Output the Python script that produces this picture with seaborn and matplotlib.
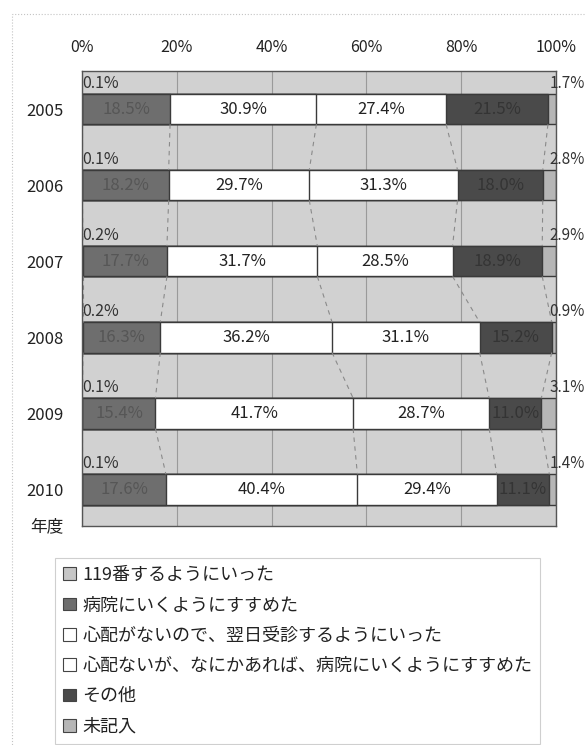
import numpy as np
import pandas as pd
import seaborn as sns
import matplotlib.pyplot as plt
from matplotlib.patches import Patch, Rectangle

years = ["2005", "2006", "2007", "2008", "2009", "2010"]
series = ["119番するようにいった", "病院にいくようにすすめた",
          "心配がないので、翌日受診するようにいった",
          "心配ないが、なにかあれば、病院にいくようにすすめた",
          "その他", "未記入"]
call_119 = [0.1, 0.1, 0.2, 0.2, 0.1, 0.1]
hospital = [18.5, 18.2, 17.7, 16.3, 15.4, 17.6]
next_day = [30.9, 29.7, 31.7, 36.2, 41.7, 40.4]
if_any = [27.4, 31.3, 28.5, 31.1, 28.7, 29.4]
other = [21.5, 18.0, 18.9, 15.2, 11.0, 11.1]
no_answer = [1.7, 2.8, 2.9, 0.9, 3.1, 1.4]
tick_labels = ["0%", "20%", "40%", "60%", "80%", "100%"]

colors = ["#c6c6c6", "#6e6e6e", "white", "white", "#4a4a4a", "#b6b6b6"]
text_colors = ["#333333", "#565656", "#222222", "#222222", "#343434", "#333333"]
edge = "#3a3a3a"

sns.set_theme(style="white")
plt.rcParams["font.family"] = ["Noto Sans CJK JP", "DejaVu Sans"]

df = pd.DataFrame({s: v for s, v in zip(series, [call_119, hospital, next_day, if_any, other, no_answer])},
                  index=years)
# 100% stacked: normalise each row
pct = df.div(df.sum(axis=1), axis=0) * 100
cum = pct.cumsum(axis=1)
start = cum - pct

fig = plt.figure(figsize=(5.86, 7.45), dpi=100)
ax = fig.add_axes([82 / 586, 1 - 526 / 745, 474 / 586, 455 / 745])
ax.set_facecolor("#d1d1d1")

# outer dotted frame of the chart
fig.patches.append(Rectangle((12 / 586, -0.01), 1.0, 1 - 14 / 745 + 0.01, transform=fig.transFigure,
                             fill=False, edgecolor="#c4c4c4", lw=0.8, ls=":"))

# draw cumulative bars from the longest to the shortest
for i in range(len(series) - 1, -1, -1):
    sns.barplot(x=cum.iloc[:, i].values, y=years, orient="h", color=colors[i],
                saturation=1, width=0.4, edgecolor=edge, linewidth=1.0, ax=ax)

# series lines between bars
bh = 0.2
for k in range(len(series) - 1):
    for j in range(len(years) - 1):
        ax.plot([cum.iloc[j, k], cum.iloc[j + 1, k]], [j + bh, j + 1 - bh],
                color="#8a8a8a", lw=0.8, ls=(0, (4, 4)), zorder=1)

# labels
for j, y in enumerate(years):
    for i in range(1, 5):
        v = df.iloc[j, i]
        ax.text(start.iloc[j, i] + pct.iloc[j, i] / 2, j, f"{v:.1f}%", ha="center", va="center",
                fontsize=12, color=text_colors[i])
    ax.text(0, j - bh - 0.14, f"{df.iloc[j, 0]:.1f}%", ha="left", va="center",
            fontsize=11.5, color=text_colors[0])
    ax.text(98.6, j - bh - 0.14, f"{df.iloc[j, 5]:.1f}%", ha="left", va="center",
            fontsize=11, color=text_colors[5], clip_on=False)

ax.set_xlim(0, 100)
ax.set_ylim(5.48, -0.5)
ax.set_xticks(np.arange(0, 101, 20))
ax.set_xticklabels(tick_labels)
ax.xaxis.tick_top()
ax.tick_params(axis="x", length=0, pad=11, labelsize=11.5, colors="#222222")
ax.tick_params(axis="y", length=0, pad=13, labelsize=12, colors="#222222")
ax.set_xlabel("")
ax.set_ylabel("")
ax.grid(axis="x", color="#9a9a9a", lw=0.8)
ax.grid(axis="y", visible=False)
ax.set_axisbelow(True)
for sp in ax.spines.values():
    sp.set_color("#555555")
    sp.set_linewidth(1.0)

fig.text(63 / 586, 1 - 527 / 745, "年度", ha="right", va="center", fontsize=12, color="#222222")

handles = [Patch(facecolor=c, edgecolor="#444444", lw=0.8) for c in colors]
leg = fig.legend(handles, series, loc="upper left", bbox_to_anchor=(55 / 586, 1 - 558 / 745),
                 frameon=True, fancybox=False, edgecolor="#c4c4c4", fontsize=13,
                 handlelength=0.7, handleheight=0.7, handletextpad=0.35,
                 labelspacing=0.68, borderpad=0.45, borderaxespad=0)
leg.get_frame().set_linewidth(0.8)
for t in leg.get_texts():
    t.set_color("#222222")

fig.savefig("out.png", dpi=100, facecolor="white")
